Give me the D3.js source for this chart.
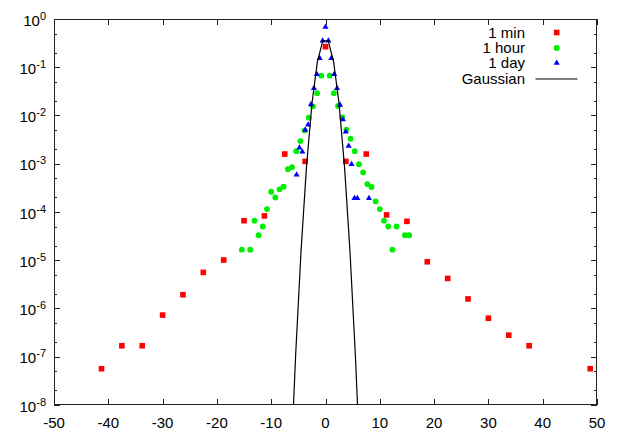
<!DOCTYPE html>
<html><head><meta charset="utf-8">
<script src="https://cdn.jsdelivr.net/npm/d3@7/dist/d3.min.js"></script>
<style>
html,body{margin:0;padding:0;background:#fff;}
text{font-family:"Liberation Sans",Arial,Helvetica,sans-serif;fill:#000;}
</style></head>
<body>
<svg id="chart" width="623" height="436"></svg>
<script>
// ---- data ----
const minX = [-41.25,-37.5,-33.75,-30,-26.25,-22.5,-18.75,-15,-11.25,-7.5,-3.75,0,3.75,7.5,11.25,15,18.75,22.5,26.25,30,33.75,37.5,48.75];
const minP = [5.65e-8,1.69e-7,1.69e-7,7.3e-7,1.93e-6,5.6e-6,1.01e-5,6.6e-5,8.3e-5,1.59e-3,1.12e-3,0.267,1.12e-3,1.59e-3,8.7e-5,6.4e-5,9.3e-6,4.2e-6,1.58e-6,6.3e-7,2.8e-7,1.69e-7,5.65e-8];

const hourX = [-15.4,-13.86,-13.09,-12.32,-11.55,-10.78,-10.01,-9.24,-8.47,-7.70,-6.93,-6.16,-5.39,-4.62,-3.85,-3.08,-2.31,-1.54,-0.77,
               0.77,1.54,2.31,3.08,3.85,4.62,5.39,6.16,6.93,7.70,8.47,9.24,10.01,10.78,11.55,12.32,13.09,14.63,15.4];
const hourP = [1.66e-5,1.66e-5,6.6e-5,3.3e-5,5.0e-5,1.15e-4,2.63e-4,2.0e-4,2.95e-4,3.35e-4,7.7e-4,8.5e-4,1.82e-3,2.95e-3,4.9e-3,9.0e-3,1.55e-2,2.9e-2,6.7e-2,
               6.7e-2,2.9e-2,1.58e-2,9.1e-3,5.1e-3,3.3e-3,1.82e-3,9.8e-4,6.6e-4,3.8e-4,3.3e-4,1.66e-4,1.15e-4,6.6e-5,5.0e-5,1.66e-5,5.0e-5,3.3e-5,3.3e-5];

const dayX = [-5.33,-4.8,-4.27,-3.73,-3.2,-2.67,-2.13,-1.6,-1.07,-0.53,0,0.53,1.07,1.6,2.13,2.67,3.2,3.73,4.27,4.8,5.33,5.87,8.0];
const dayP = [5.9e-4,2.15e-3,1.78e-3,5.0e-3,6.4e-3,1.7e-2,3.66e-2,7.2e-2,0.153,0.355,0.68,0.355,0.153,7.2e-2,3.66e-2,1.66e-2,8.3e-3,4.6e-3,2.34e-3,9.8e-4,1.92e-4,1.92e-4,1.92e-4];

const gaussX = [-7.5,-6.5,-5.5,-4.5,-3.5,-2.5,-1.5,-0.5,0.5,1.5,2.5,3.5,4.5,5.5,6.5,7.5];
const gaussP = [2.434e-13,2.670e-10,1.0769e-7,1.5984e-5,8.727e-4,1.7528e-2,0.129518,0.352065,0.352065,0.129518,1.7528e-2,8.727e-4,1.5984e-5,1.0769e-7,2.670e-10,2.434e-13];

const xTicks = [-50,-40,-30,-20,-10,0,10,20,30,40,50];
const yExponents = [0,-1,-2,-3,-4,-5,-6,-7,-8];
const legendLabels = ["1 min","1 hour","1 day","Gaussian"];

// ---- layout ----
const L = 54, R = 597, T = 19, B = 405;
const svg = d3.select("#chart");
const x = d3.scaleLinear().domain([-50,50]).range([L,R]);
const y = d3.scaleLog().domain([1e-8,1]).range([B,T]);

svg.append("defs").append("clipPath").attr("id","clip")
  .append("rect").attr("x",L).attr("y",T).attr("width",R-L).attr("height",B-T);

const axisColor = "#222";
const g = svg.append("g");

// x ticks (bottom and top, inward)
xTicks.forEach(v=>{
  const px = Math.round(x(v))+0.5;
  g.append("line").attr("x1",px).attr("x2",px).attr("y1",B).attr("y2",B-6).attr("stroke",axisColor);
  g.append("line").attr("x1",px).attr("x2",px).attr("y1",T).attr("y2",T+6).attr("stroke",axisColor);
  g.append("text").attr("x",x(v)).attr("y",428).attr("text-anchor","middle")
    .attr("font-size",15).text(v);
});

// y ticks: majors and minors (2, 5)
yExponents.forEach(e=>{
  const v = Math.pow(10,e);
  const py = Math.round(y(v))+0.5;
  g.append("line").attr("x1",L).attr("x2",L+6).attr("y1",py).attr("y2",py).attr("stroke",axisColor);
  g.append("line").attr("x1",R).attr("x2",R-6).attr("y1",py).attr("y2",py).attr("stroke",axisColor);
  const t = g.append("text").attr("x",46).attr("y",y(v)+6.5).attr("text-anchor","end").attr("font-size",15);
  t.append("tspan").text("10");
  t.append("tspan").attr("font-size",11).attr("dy",-6).text(String(e).replace("-","-"));
  if (e > -8) {
    [2,5].forEach(m=>{
      const mv = m*Math.pow(10,e-1);
      const my = Math.round(y(mv))+0.5;
      g.append("line").attr("x1",L).attr("x2",L+3).attr("y1",my).attr("y2",my).attr("stroke",axisColor);
      g.append("line").attr("x1",R).attr("x2",R-3).attr("y1",my).attr("y2",my).attr("stroke",axisColor);
    });
  }
});

// border
g.append("rect").attr("x",L+0.5).attr("y",T+0.5).attr("width",R-L-1).attr("height",B-T-1)
  .attr("fill","none").attr("stroke",axisColor).attr("stroke-width",1);

// ---- marks ----
const plot = svg.append("g").attr("clip-path","url(#clip)");
const sq = 5.6;
const tri = d3.symbol().type(d3.symbolTriangle).size(16);

plot.selectAll(".min").data(minX.map((v,i)=>[v,minP[i]])).join("rect")
  .attr("x",d=>x(d[0])-sq/2).attr("y",d=>y(d[1])-sq/2).attr("width",sq).attr("height",sq).attr("fill","#ff0000");

plot.selectAll(".hour").data(hourX.map((v,i)=>[v,hourP[i]])).join("circle")
  .attr("cx",d=>x(d[0])).attr("cy",d=>y(d[1])).attr("r",2.9).attr("fill","#00ee00");

plot.selectAll(".day").data(dayX.map((v,i)=>[v,dayP[i]])).join("path")
  .attr("d",tri).attr("transform",d=>`translate(${x(d[0])},${y(d[1])})`).attr("fill","#0000ff");

const line = d3.line().x(d=>x(d[0])).y(d=>y(d[1]));
plot.append("path").datum(gaussX.map((v,i)=>[v,gaussP[i]]))
  .attr("d",line).attr("fill","none").attr("stroke","#000").attr("stroke-width",1.2);

// ---- legend ----
const legY = [32.5,48,63,79];
const lg = svg.append("g");
legendLabels.forEach((lab,i)=>{
  lg.append("text").attr("x",525).attr("y",legY[i]+5.3).attr("text-anchor","end").attr("font-size",15).text(lab);
});
lg.append("rect").attr("x",556.7-sq/2).attr("y",legY[0]-sq/2).attr("width",sq).attr("height",sq).attr("fill","#ff0000");
lg.append("circle").attr("cx",556.7).attr("cy",legY[1]).attr("r",2.9).attr("fill","#00ee00");
lg.append("path").attr("d",tri).attr("transform",`translate(556.7,${legY[2]})`).attr("fill","#0000ff");
lg.append("line").attr("x1",535.5).attr("x2",577.5).attr("y1",legY[3]).attr("y2",legY[3]).attr("stroke","#000").attr("stroke-width",1.2);
</script>
</body></html>
